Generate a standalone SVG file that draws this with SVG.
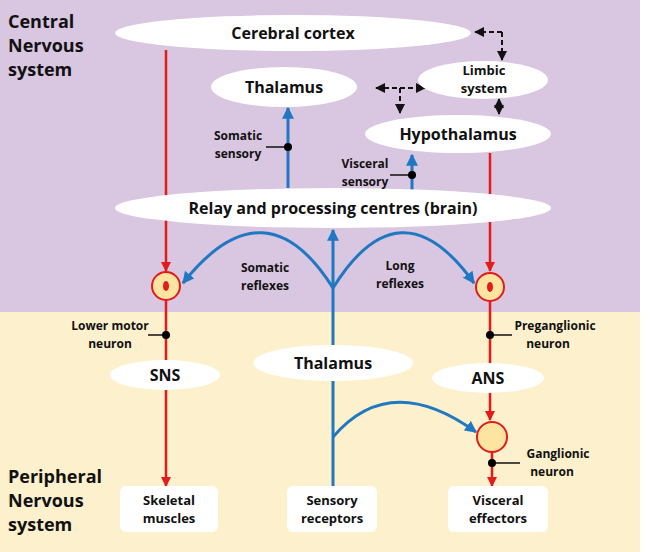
<svg xmlns="http://www.w3.org/2000/svg" width="654" height="552" viewBox="0 0 654 552">
<defs>
<marker id="ar" viewBox="0 0 10 10" refX="9" refY="5" markerWidth="4" markerHeight="4" orient="auto-start-reverse"><path d="M0,0L10,5L0,10z" fill="#e31b1b"/></marker>
<marker id="ab" viewBox="0 0 10 10" refX="9" refY="5" markerWidth="4" markerHeight="4" orient="auto-start-reverse"><path d="M0,0L10,5L0,10z" fill="#1f78c1"/></marker>
<marker id="ak" viewBox="0 0 10 10" refX="9" refY="5" markerWidth="5" markerHeight="5" orient="auto-start-reverse"><path d="M0,0L10,5L0,10z" fill="#111"/></marker>
</defs>
<style>
text{font-family:"Open Sans","Liberation Sans",sans-serif;font-weight:bold;fill:#111;text-anchor:middle}
.n{fill:#fff}
.t{font-size:16px}.s{font-size:12px}.h{font-size:18px;text-anchor:start}
.r{stroke:#e31b1b;stroke-width:2.5;fill:none;marker-end:url(#ar)}
.b{stroke:#1f78c1;stroke-width:3;fill:none;marker-end:url(#ab)}
.d{stroke:#111;stroke-width:2;stroke-dasharray:5,3;fill:none}
.k{stroke:#111;stroke-width:1.5}
.cell{fill:#fde4a0;stroke:#e31b1b;stroke-width:2}
</style>
<rect x="0" y="0" width="640" height="312" fill="#d9c6e0"/>
<rect x="0" y="312" width="640" height="240" fill="#fdf0cc"/>
<text class="h" x="8" y="28">Central</text><text class="h" x="8" y="52">Nervous</text><text class="h" x="8" y="76">system</text>
<text class="h" x="8" y="483">Peripheral</text><text class="h" x="8" y="507">Nervous</text><text class="h" x="8" y="531">system</text>
<g id="connectors">
<path class="r" d="M166,50V271"/><path class="r" d="M166,300V486"/>
<path class="r" d="M490,153V271"/><path class="r" d="M490,301V420"/><path class="r" d="M492,452V486"/>
<path class="b" d="M333,486V230"/>
<path class="b" d="M333,288Q265,180 183,283"/><path class="b" d="M333,288Q400,180 474,283"/>
<path class="b" d="M333,437Q390,370 476,432"/>
<path class="b" d="M288,188V108"/><path class="b" d="M412,190V155"/>
<path class="k" d="M266,147H288"/><circle cx="288" cy="147" r="4"/>
<path class="k" d="M390,175H412"/><circle cx="412" cy="175" r="4"/>
<path class="k" d="M148,335H166"/><circle cx="166" cy="335" r="4"/>
<path class="k" d="M490,335H512"/><circle cx="490" cy="335" r="4"/>
<path class="k" d="M492,463H520"/><circle cx="492" cy="463" r="4"/>
<path class="d" d="M502,32H475" marker-end="url(#ak)"/><path d="M502,32V60" class="d" marker-end="url(#ak)"/>
<path class="d" d="M376,88H425" marker-start="url(#ak)" marker-end="url(#ak)"/>
<path class="d" d="M400,88V113" marker-end="url(#ak)"/>
<path d="M499,99V114" stroke="#111" stroke-width="2" marker-start="url(#ak)" marker-end="url(#ak)"/>
</g>
<g id="cortex"><ellipse class="n" cx="293" cy="33" rx="178" ry="18"/><text class="t" x="293" y="39">Cerebral cortex</text></g>
<g id="thalamus1"><ellipse class="n" cx="284" cy="87" rx="73" ry="20"/><text class="t" x="284" y="93">Thalamus</text></g>
<g id="limbic"><ellipse class="n" cx="483" cy="80" rx="65" ry="19"/><text x="484" y="75" style="font-size:13px">Limbic</text><text x="484" y="93" style="font-size:13px">system</text></g>
<g id="hypothalamus"><ellipse class="n" cx="458" cy="134" rx="93" ry="19"/><text class="t" x="458" y="140">Hypothalamus</text></g>
<g id="relay"><ellipse class="n" cx="333" cy="208" rx="218" ry="20"/><text class="t" x="333" y="214">Relay and processing centres (brain)</text></g>
<g id="thalamus2"><ellipse class="n" cx="333" cy="363" rx="80" ry="18"/><text class="t" x="333" y="369">Thalamus</text></g>
<g id="sns"><ellipse class="n" cx="165" cy="375" rx="55" ry="15"/><text class="t" x="165" y="381">SNS</text></g>
<g id="ans"><ellipse class="n" cx="488" cy="378" rx="56" ry="15"/><text class="t" x="488" y="384">ANS</text></g>
<g id="neuron1"><circle class="cell" cx="166" cy="286" r="14"/><ellipse cx="166" cy="286" rx="3" ry="5" fill="#e31b1b"/></g>
<g id="neuron2"><circle class="cell" cx="490" cy="287" r="14"/><ellipse cx="490" cy="287" rx="3" ry="5" fill="#e31b1b"/></g>
<g id="ganglion"><circle class="cell" cx="492" cy="437" r="15"/></g>
<g id="skeletal"><rect class="n" x="120" y="486" width="98" height="46" rx="6"/><text x="169" y="505" style="font-size:13px">Skeletal</text><text x="169" y="523" style="font-size:13px">muscles</text></g>
<g id="sensory"><rect class="n" x="287" y="486" width="90" height="46" rx="6"/><text x="332" y="505" style="font-size:13px">Sensory</text><text x="332" y="523" style="font-size:13px">receptors</text></g>
<g id="visceral"><rect class="n" x="448" y="486" width="100" height="46" rx="6"/><text x="498" y="505" style="font-size:13px">Visceral</text><text x="498" y="523" style="font-size:13px">effectors</text></g>
<g id="labels">
<text class="s" x="238" y="140">Somatic</text><text class="s" x="238" y="158">sensory</text>
<text class="s" x="365" y="168">Visceral</text><text class="s" x="365" y="186">sensory</text>
<text class="s" x="265" y="272">Somatic</text><text class="s" x="265" y="290">reflexes</text>
<text class="s" x="400" y="270">Long</text><text class="s" x="400" y="288">reflexes</text>
<text class="s" x="110" y="330">Lower motor</text><text class="s" x="110" y="348">neuron</text>
<text class="s" x="555" y="330">Preganglionic</text><text class="s" x="548" y="348">neuron</text>
<text class="s" x="558" y="458">Ganglionic</text><text class="s" x="552" y="476">neuron</text>
</g>
</svg>
